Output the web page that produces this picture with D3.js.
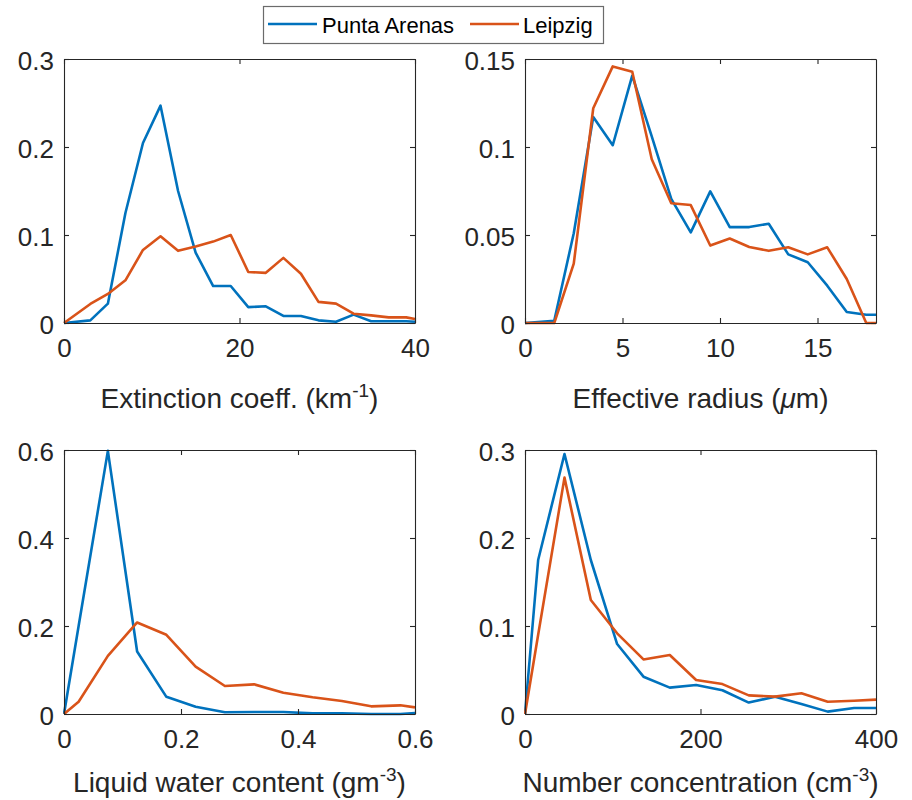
<!DOCTYPE html>
<html>
<head>
<meta charset="utf-8">
<script src="https://cdn.jsdelivr.net/npm/d3@7"></script>
<style>
  html, body { margin: 0; padding: 0; background: #fff; }
  svg { display: block; font-family: "Liberation Sans", Arial, Helvetica, sans-serif; }
</style>
</head>
<body>
<svg id="chart" width="912" height="800"></svg>
<script>
// ---------- DATA ----------
const seriesNames = ["Punta Arenas", "Leipzig"];
const seriesColors = ["#0072BD", "#D95319"];

// Panel 1: Extinction coefficient (km^-1)
const extX = [0, 3, 5, 7, 9, 11, 13, 15, 17, 19, 21, 23, 25, 27, 29, 31, 33, 35, 37, 39, 40];
const extPunta = [0, 0.003, 0.022, 0.125, 0.2045, 0.247, 0.150, 0.080, 0.042, 0.042, 0.018, 0.019, 0.008, 0.008, 0.003, 0.0015, 0.0095, 0.002, 0.002, 0.002, 0.0015];
const extLeipzig = [0, 0.0216, 0.033, 0.0485, 0.083, 0.0985, 0.082, 0.087, 0.0925, 0.100, 0.058, 0.057, 0.074, 0.056, 0.024, 0.022, 0.0106, 0.0087, 0.0064, 0.0064, 0.0045];

// Panel 2: Effective radius (um)
const reffX = [0, 1.5, 2.5, 3.5, 4.5, 5.5, 6.5, 7.5, 8.5, 9.5, 10.5, 11.5, 12.5, 13.5, 14.5, 15.5, 16.5, 17.5, 18];
const reffPunta = [0, 0.0013, 0.051, 0.117, 0.101, 0.1405, 0.106, 0.0705, 0.0515, 0.0748, 0.0545, 0.0545, 0.0564, 0.039, 0.0345, 0.0212, 0.0063, 0.0047, 0.0047];
const reffLeipzig = [0, 0, 0.0337, 0.122, 0.1458, 0.1428, 0.093, 0.068, 0.067, 0.044, 0.048, 0.0432, 0.041, 0.043, 0.039, 0.043, 0.025, 0, 0];

// Panel 3: Liquid water content (g m^-3)
const lwcX = [0, 0.025, 0.075, 0.125, 0.175, 0.225, 0.275, 0.325, 0.375, 0.425, 0.475, 0.525, 0.575, 0.6];
const lwcPunta = [0, 0.2, 0.598, 0.142, 0.039, 0.0167, 0.004, 0.0045, 0.0045, 0.0015, 0.0015, 0, 0, 0.002];
const lwcLeipzig = [0, 0.028, 0.132, 0.208, 0.180, 0.1076, 0.0636, 0.0674, 0.0485, 0.038, 0.0295, 0.0174, 0.0197, 0.015];

// Panel 4: Number concentration (cm^-3)
const ncX = [0, 15, 45, 75, 105, 135, 165, 195, 225, 255, 285, 315, 345, 375, 400];
const ncPunta = [0, 0.175, 0.2955, 0.175, 0.0795, 0.0424, 0.030, 0.033, 0.027, 0.013, 0.0197, 0.0114, 0.0027, 0.0068, 0.0068];
const ncLeipzig = [0, 0.09, 0.2686, 0.1295, 0.0917, 0.062, 0.067, 0.0386, 0.034, 0.0212, 0.0197, 0.0235, 0.014, 0.015, 0.0163];

// Tick values
const extXTicks = [0, 20, 40];
const extYTicks = [0, 0.1, 0.2, 0.3];
const reffXTicks = [0, 5, 10, 15];
const reffYTicks = [0, 0.05, 0.1, 0.15];
const lwcXTicks = [0, 0.2, 0.4, 0.6];
const lwcYTicks = [0, 0.2, 0.4, 0.6];
const ncXTicks = [0, 200, 400];
const ncYTicks = [0, 0.1, 0.2, 0.3];

// ---------- LAYOUT ----------
const svg = d3.select("#chart");
const AX = "#262626";
const TICKFONT = 26;
const LABELFONT = 28;

const panels = [
  { x: extX, ys: [extPunta, extLeipzig], xd: [0, 40], yd: [0, 0.3], xt: extXTicks, yt: extYTicks,
    box: [64, 59, 415, 323], label: [{t: "Extinction coeff. (km"}, {t: "-1", sup: true}, {t: ")"}], labelY: 408 },
  { x: reffX, ys: [reffPunta, reffLeipzig], xd: [0, 18], yd: [0, 0.15], xt: reffXTicks, yt: reffYTicks,
    box: [525, 59, 876, 323], label: [{t: "Effective radius ("}, {t: "\u03BC", it: true}, {t: "m)"}], labelY: 408 },
  { x: lwcX, ys: [lwcPunta, lwcLeipzig], xd: [0, 0.6], yd: [0, 0.6], xt: lwcXTicks, yt: lwcYTicks,
    box: [64, 450, 415, 714], label: [{t: "Liquid water content (gm"}, {t: "-3", sup: true}, {t: ")"}], labelY: 792 },
  { x: ncX, ys: [ncPunta, ncLeipzig], xd: [0, 400], yd: [0, 0.3], xt: ncXTicks, yt: ncYTicks,
    box: [525, 450, 876, 714], label: [{t: "Number concentration (cm"}, {t: "-3", sup: true}, {t: ")"}], labelY: 792 }
];

const fmt = d => String(+d.toFixed(4));

panels.forEach(p => {
  const [x0, y0, x1, y1] = p.box;
  const xs = d3.scaleLinear().domain(p.xd).range([x0, x1]);
  const ys = d3.scaleLinear().domain(p.yd).range([y1, y0]);
  const g = svg.append("g");

  // lines (clipped to axes box)
  const clipId = "clip" + x0 + "_" + y0;
  svg.append("clipPath").attr("id", clipId).append("rect")
    .attr("x", x0 - 1).attr("y", y0 - 2).attr("width", x1 - x0 + 2).attr("height", y1 - y0 + 4);
  const lg = g.append("g").attr("clip-path", `url(#${clipId})`);
  p.ys.forEach((vals, si) => {
    const line = d3.line().x((d, i) => xs(p.x[i])).y(d => ys(d));
    lg.append("path").datum(vals)
      .attr("d", line)
      .attr("fill", "none")
      .attr("stroke", seriesColors[si])
      .attr("stroke-width", 2.6)
      .attr("stroke-linejoin", "round");
  });

  // axes
  const bottom = g.append("g").attr("transform", `translate(0,${y1})`)
    .call(d3.axisBottom(xs).tickValues(p.xt).tickFormat(fmt).tickSizeInner(-5).tickSizeOuter(0).tickPadding(15.5));
  const left = g.append("g").attr("transform", `translate(${x0},0)`)
    .call(d3.axisLeft(ys).tickValues(p.yt).tickFormat(fmt).tickSizeInner(-5).tickSizeOuter(0).tickPadding(10));
  const top = g.append("g").attr("transform", `translate(0,${y0})`)
    .call(d3.axisTop(xs).tickValues(p.xt).tickFormat("").tickSizeInner(-5).tickSizeOuter(0));
  const right = g.append("g").attr("transform", `translate(${x1},0)`)
    .call(d3.axisRight(ys).tickValues(p.yt).tickFormat("").tickSizeInner(-5).tickSizeOuter(0));

  [bottom, left, top, right].forEach(a => {
    a.select(".domain").attr("stroke", AX).attr("stroke-width", 1.1);
    a.selectAll(".tick line").attr("stroke", AX).attr("stroke-width", 1.1);
    a.selectAll(".tick text").attr("fill", AX)
      .attr("font-size", TICKFONT)
      .attr("font-family", "'Liberation Sans', Arial, sans-serif");
  });
  left.selectAll(".tick text").attr("dy", "0.42em");

  // x-axis label
  const t = g.append("text")
    .attr("x", (x0 + x1) / 2).attr("y", p.labelY)
    .attr("text-anchor", "middle")
    .attr("font-size", LABELFONT)
    .attr("fill", AX);
  p.label.forEach(part => {
    const ts = t.append("tspan").text(part.t);
    if (part.sup) ts.attr("font-size", LABELFONT * 0.68).attr("dy", -11);
    else if (part.it) ts.attr("font-style", "italic");
    if (!part.sup && part.t === ")") ts.attr("dy", 11);
  });
});

// ---------- LEGEND ----------
const leg = svg.append("g");
leg.append("rect").attr("x", 263.5).attr("y", 6.5).attr("width", 340).attr("height", 37)
  .attr("fill", "#fff").attr("stroke", "#6b6b6b").attr("stroke-width", 1.2);
const legItems = [
  { name: seriesNames[0], color: seriesColors[0], lx: 268, tx: 322 },
  { name: seriesNames[1], color: seriesColors[1], lx: 470, tx: 523 }
];
legItems.forEach(it => {
  leg.append("line").attr("x1", it.lx).attr("x2", it.lx + 49).attr("y1", 24).attr("y2", 24)
    .attr("stroke", it.color).attr("stroke-width", 2.6);
  leg.append("text").attr("x", it.tx).attr("y", 32.5).attr("font-size", 22).attr("fill", "#000").text(it.name);
});
</script>
</body>
</html>
